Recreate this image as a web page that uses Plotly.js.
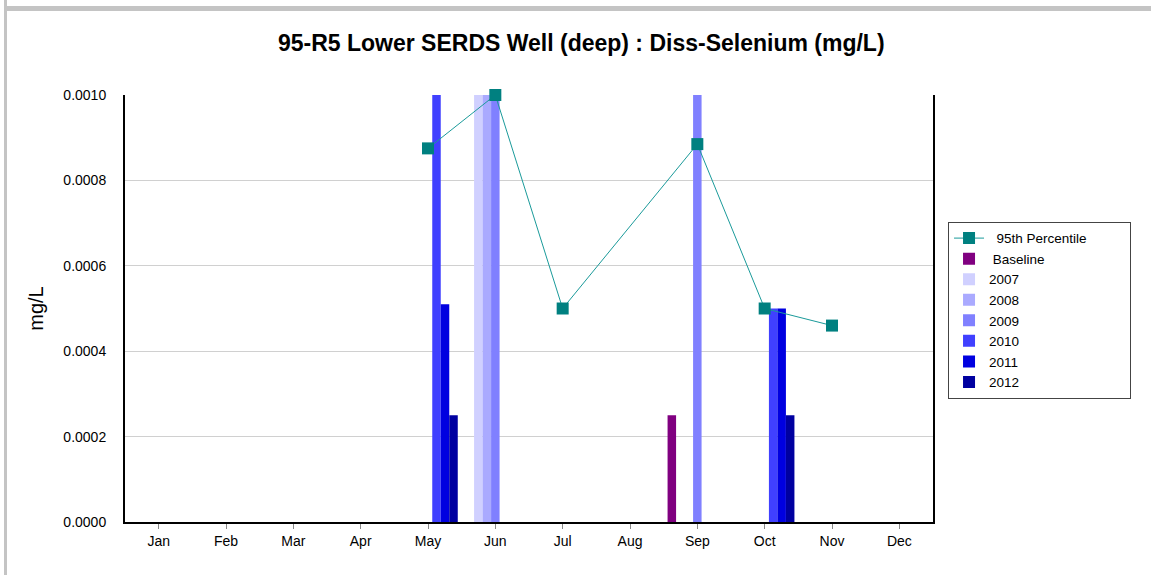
<!DOCTYPE html>
<html>
<head>
<meta charset="utf-8">
<script src="https://cdn.plot.ly/plotly-3.0.1.min.js"></script>
<style>
html,body{margin:0;padding:0;background:#fff;}
#chart{position:absolute;left:0;top:0;width:1151px;height:575px;}
#fl{position:absolute;left:4px;top:0;width:3px;height:575px;background:#c4c4c4;z-index:10;}
#ft{position:absolute;left:4px;top:6px;width:1147px;height:5px;background:#c4c4c4;z-index:10;}
</style>
</head>
<body>
<div id="chart"></div>
<div id="fl"></div>
<div id="ft"></div>
<script>
const months = ["Jan","Feb","Mar","Apr","May","Jun","Jul","Aug","Sep","Oct","Nov","Dec"];
const pct95 = [null,null,null,null,0.000875,0.001,0.0005,null,0.000885,0.0005,0.00046,null];
const baseline = [null,null,null,null,null,null,null,null,0.00025,null,null,null];
const y2007 = [null,null,null,null,null,0.001,null,null,null,null,null,null];
const y2008 = [null,null,null,null,null,0.001,null,null,null,null,null,null];
const y2009 = [null,null,null,null,null,0.001,null,null,0.001,null,null,null];
const y2010 = [null,null,null,null,0.001,null,null,null,null,0.0005,null,null];
const y2011 = [null,null,null,null,0.00051,null,null,null,null,0.0005,null,null];
const y2012 = [null,null,null,null,0.00025,null,null,null,null,0.00025,null,null];

const barSeries = [
  ["\u00a0Baseline", baseline, "#800080"],
  ["2007", y2007, "#D0D0FF"],
  ["2008", y2008, "#AAAAFF"],
  ["2009", y2009, "#8080FF"],
  ["2010", y2010, "#4040FF"],
  ["2011", y2011, "#0000E0"],
  ["2012", y2012, "#0000A0"]
];

const traces = [{
  type: "scatter", mode: "lines+markers",
  name: "\u00a0\u00a095th Percentile\u00a0\u00a0\u00a0\u00a0\u00a0\u00a0\u00a0\u00a0\u00a0\u00a0",
  x: months, y: pct95, connectgaps: true, cliponaxis: false,
  line: {color: "#1a9a9a", width: 1},
  marker: {symbol: "square", size: 12, color: "#008080"}
}];
barSeries.forEach(s => traces.push({
  type: "bar", name: s[0], x: months, y: s[1],
  marker: {color: s[2], line: {width: 0}}
}));

const layout = {
  width: 1151, height: 575,
  margin: {l: 125, r: 218, t: 95, b: 53},
  paper_bgcolor: "#ffffff", plot_bgcolor: "#ffffff",
  font: {family: "Liberation Sans, Arial, sans-serif", size: 14, color: "#000"},
  title: {text: "<b>95-R5 Lower SERDS Well (deep) : Diss-Selenium (mg/L)</b>",
          font: {size: 23, family: "Liberation Sans, Arial, sans-serif", color: "#000"},
          x: 0.505, xref: "container", y: 0.925, yref: "container", yanchor: "middle"},
  barmode: "group", bargap: 0.116, bargroupgap: 0,
  showlegend: true,
  legend: {x: 1.0186, xanchor: "left", y: 0.703, yanchor: "top",
           bordercolor: "#444", borderwidth: 1, bgcolor: "#fff",
           font: {size: 13.5}, traceorder: "normal", tracegroupgap: 0},
  xaxis: {type: "category", range: [-0.5, 11.5], showgrid: false,
          showline: true, linecolor: "#000", linewidth: 2,
          ticks: "outside", ticklen: 5, tickcolor: "#888", tickwidth: 1,
          tickfont: {size: 14}, fixedrange: true},
  yaxis: {range: [0, 0.001], tickvals: [0, 0.0002, 0.0004, 0.0006, 0.0008, 0.001],
          ticktext: ["0.0000","0.0002","0.0004","0.0006","0.0008","0.0010"],
          showgrid: true, gridcolor: "#d0d0d0", gridwidth: 1,
          showline: true, linecolor: "#000", linewidth: 2, mirror: true,
          ticks: "", ticklabelstandoff: 14, zeroline: false,
          tickfont: {size: 14},
          title: {text: "mg/L", font: {size: 20}, standoff: 14}}
};

Plotly.newPlot("chart", traces, layout, {displayModeBar: false, staticPlot: true});
</script>
</body>
</html>
